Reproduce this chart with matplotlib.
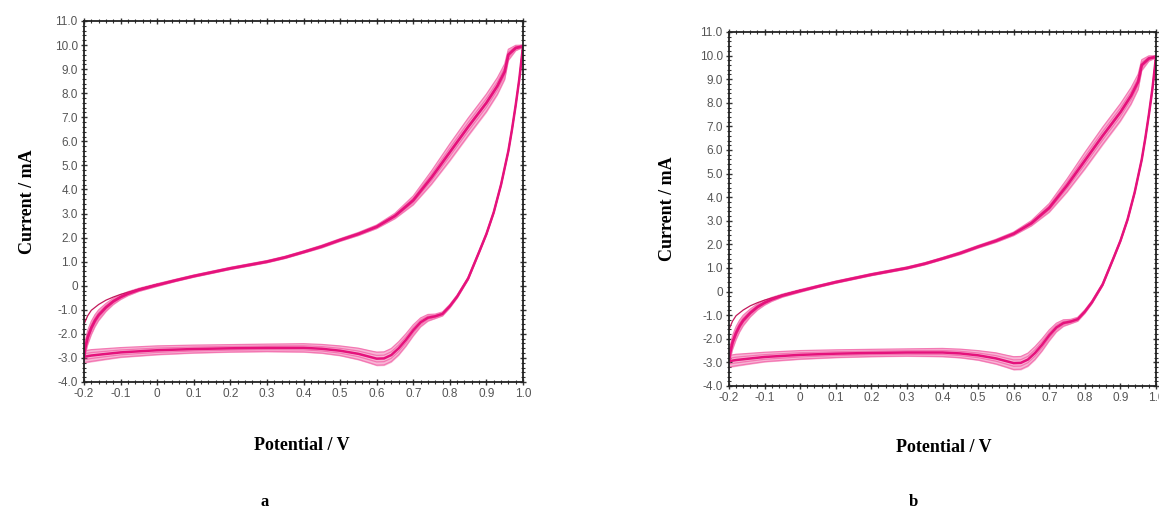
import matplotlib
matplotlib.use("Agg")
import matplotlib.pyplot as plt
from matplotlib.ticker import MultipleLocator, FixedLocator
import numpy as np

# ---- data (cyclic voltammograms, repeated cycles) ----
# anodic (forward) scan: potential / V, current / mA (centre of cycle band), band half-width
fwd_E = [-0.2, -0.197, -0.19, -0.18, -0.17, -0.16, -0.14, -0.12, -0.1, -0.08, -0.05,
         0.0, 0.05, 0.1, 0.2, 0.3, 0.35, 0.4, 0.45, 0.5, 0.55, 0.6, 0.65, 0.7, 0.75,
         0.8, 0.85, 0.9, 0.93, 0.95, 0.96, 0.98, 1.0]
fwd_I = [-3.0, -2.6, -2.15, -1.75, -1.45, -1.22, -0.9, -0.65, -0.47, -0.33, -0.17,
         0.03, 0.22, 0.4, 0.72, 1.0, 1.18, 1.4, 1.63, 1.9, 2.15, 2.45, 2.9, 3.55, 4.5,
         5.55, 6.6, 7.6, 8.3, 8.9, 9.6, 9.88, 9.95]
fwd_spread = [0.1, 0.3, 0.32, 0.3, 0.27, 0.24, 0.18, 0.14, 0.11, 0.09, 0.07,
              0.06, 0.05, 0.05, 0.05, 0.05, 0.05, 0.05, 0.06, 0.06, 0.07, 0.08, 0.12,
              0.2, 0.3, 0.38, 0.4, 0.4, 0.38, 0.35, 0.25, 0.12, 0.05]

# first cycle starts slightly higher on the anodic sweep
first_E = [-0.2, -0.19, -0.18, -0.16, -0.14, -0.12, -0.1, -0.07, -0.04, 0.0]
first_I = [-1.6, -1.25, -1.02, -0.78, -0.6, -0.47, -0.36, -0.23, -0.1, 0.06]

# cathodic (reverse) scan
rev_E = [1.0, 0.99, 0.98, 0.97, 0.96, 0.94, 0.92, 0.9, 0.88, 0.85, 0.82, 0.8, 0.78,
         0.76, 0.74, 0.72, 0.7, 0.68, 0.66, 0.64, 0.62, 0.6, 0.58, 0.55, 0.5, 0.45,
         0.4, 0.3, 0.2, 0.1, 0.0, -0.1, -0.15, -0.18, -0.2]
rev_I = [9.95, 8.6, 7.5, 6.5, 5.6, 4.2, 3.05, 2.15, 1.4, 0.3, -0.45, -0.85, -1.17,
         -1.27, -1.33, -1.52, -1.85, -2.25, -2.6, -2.88, -3.02, -3.03, -2.95, -2.83,
         -2.7, -2.62, -2.58, -2.58, -2.6, -2.63, -2.68, -2.77, -2.85, -2.9, -2.95]
rev_spread = [0.05, 0.05, 0.05, 0.05, 0.05, 0.05, 0.05, 0.05, 0.05, 0.06, 0.07, 0.08,
              0.09, 0.1, 0.15, 0.2, 0.25, 0.28, 0.3, 0.3, 0.3, 0.3, 0.28, 0.26, 0.22,
              0.2, 0.19, 0.17, 0.17, 0.18, 0.2, 0.22, 0.25, 0.27, 0.27]

x_ticks = [-0.2, -0.1, 0.0, 0.1, 0.2, 0.3, 0.4, 0.5, 0.6, 0.7, 0.8, 0.9, 1.0]
x_labels = ["-0.2", "-0.1", "0", "0.1", "0.2", "0.3", "0.4", "0.5", "0.6", "0.7", "0.8", "0.9", "1.0"]
y_ticks = [-4, -3, -2, -1, 0, 1, 2, 3, 4, 5, 6, 7, 8, 9, 10, 11]
y_labels = ["-4.0", "-3.0", "-2.0", "-1.0", "0", "1.0", "2.0", "3.0", "4.0", "5.0",
            "6.0", "7.0", "8.0", "9.0", "10.0", "11.0"]
panel_names = ["a", "b"]

LINE = "#e5127c"
BAND = "#f36fae"
TICKFONT = ["Liberation Sans Narrow", "Liberation Sans", "DejaVu Sans"]
LABELFONT = ["Liberation Serif", "DejaVu Serif"]

W, H = 1159, 513
fig = plt.figure(figsize=(W / 100, H / 100), dpi=100)

# axes boxes in pixels: left, right, top, bottom
boxes = [(84, 523, 21, 382), (729, 1156, 32, 386)]
ylab_x = [28, 668]
xlab_pos = [(302, 445), (944, 447)]
name_pos = [(265, 502), (913, 502)]


def draw_panel(ax):
    fe, fi, fs = np.array(fwd_E), np.array(fwd_I), np.array(fwd_spread)
    re, ri, rs = np.array(rev_E), np.array(rev_I), np.array(rev_spread)
    ax.fill_between(fe, fi - fs, fi + fs, color=BAND, alpha=0.5, lw=0)
    ax.fill_between(re, ri - rs, ri + rs, color=BAND, alpha=0.5, lw=0)
    for k in (-0.9, -0.45, 0.45, 0.9):
        ax.plot(fe, fi + k * fs, color=BAND, lw=0.9, alpha=0.9)
        ax.plot(re, ri + k * rs, color=BAND, lw=0.9, alpha=0.9)
    ax.plot(first_E, first_I, color="#c2185b", lw=0.9)
    ax.plot(fe, fi, color=LINE, lw=2.0)
    ax.plot(re, ri, color=LINE, lw=1.8)
    ax.set_xlim(-0.2, 1.0)
    ax.set_ylim(-4, 11)
    ax.xaxis.set_major_locator(FixedLocator(x_ticks))
    ax.set_xticklabels(x_labels)
    ax.yaxis.set_major_locator(FixedLocator(y_ticks))
    ax.set_yticklabels(y_labels)
    ax.xaxis.set_minor_locator(MultipleLocator(0.02))
    ax.yaxis.set_minor_locator(MultipleLocator(0.2))
    ax.tick_params(which="both", top=True, right=True, color="#333333")
    ax.tick_params(which="major", length=5, width=1.0, direction="inout")
    ax.tick_params(which="minor", length=3, width=0.8, direction="inout")
    ax.tick_params(axis="both", which="major", labelsize=8.5, labelcolor="#555555", pad=2)
    for lab in ax.get_xticklabels() + ax.get_yticklabels():
        lab.set_family(TICKFONT)
    for sp in ax.spines.values():
        sp.set_linewidth(1.3)
        sp.set_color("#222222")


for i, (l, r, t, b) in enumerate(boxes):
    ax = fig.add_axes([l / W, 1 - b / H, (r - l) / W, (b - t) / H])
    draw_panel(ax)
    fig.text(ylab_x[i] / W, 1 - ((t + b) / 2) / H, "Current / mA", rotation=90,
             ha="center", va="center", fontsize=13, fontweight="bold", family=LABELFONT)
    fig.text(xlab_pos[i][0] / W, 1 - xlab_pos[i][1] / H, "Potential / V",
             ha="center", va="center", fontsize=13, fontweight="bold", family=LABELFONT)
    fig.text(name_pos[i][0] / W, 1 - name_pos[i][1] / H, panel_names[i],
             ha="center", va="center", fontsize=12, fontweight="bold", family=LABELFONT)

fig.savefig("out.png", dpi=100)
